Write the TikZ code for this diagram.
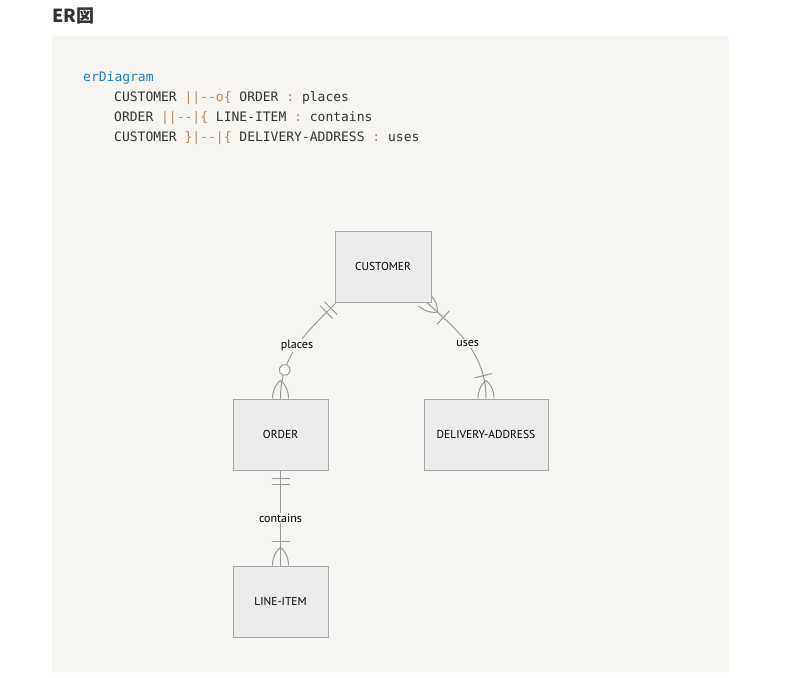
\documentclass[tikz,border=0pt]{standalone}
\usepackage{fontspec}
\setmonofont{DejaVu Sans Mono}
\newfontfamily\entfont{PT Sans}
\newfontfamily\titlefont{Noto Sans CJK JP}
\usetikzlibrary{positioning, decorations.markings, backgrounds}

\definecolor{panelbg}{HTML}{F6F5F2}
\definecolor{entfill}{HTML}{ECECEC}
\definecolor{entline}{HTML}{A8A8A8}
\definecolor{relgray}{HTML}{999999}
\definecolor{textgray}{HTML}{333333}
\definecolor{kwblue}{HTML}{1F7FB3}
\definecolor{opbrown}{HTML}{B5875C}

% crow's foot, drawn in the frame of a marking
\newcommand{\crowfoot}[1]{\draw[rel, xscale=#1] (0pt,8pt) .. controls (10pt,8pt) and (16pt,3pt) .. (18pt,0pt) .. controls (16pt,-3pt) and (10pt,-8pt) .. (0pt,-8pt);}

\begin{document}
\begin{tikzpicture}[
    x=1pt, y=-1pt,
    entity/.style={
        rectangle,
        draw=entline,
        fill=entfill,
        line width=1pt,
        minimum height=71pt,
        inner sep=0pt,
        text=black,
        font=\entfont\fontsize{11.5}{13}\selectfont
    },
    rel/.style={draw=relgray, line width=1pt},
    lbl/.style={fill=panelbg, inner sep=1pt, text=black, font=\entfont\fontsize{12}{14}\selectfont},
    code/.style={anchor=base west, inner sep=0pt, text=textgray, font=\ttfamily\fontsize{13}{16}\selectfont},
    onebar/.style={postaction={decorate, decoration={markings,
        mark=at position #1 with {\draw[rel] (0pt,-9pt) -- (0pt,9pt);}}}},
    zeroring/.style={postaction={decorate, decoration={markings,
        mark=at position #1 with {\draw[rel, fill=white] (0pt,0pt) circle (5.5pt);}}}},
    crowstart/.style={postaction={decorate, decoration={markings,
        mark=at position 0.01pt with {\crowfoot{1}}}}},
    crowend/.style={postaction={decorate, decoration={markings,
        mark=at position -0.01pt with {\crowfoot{-1}}}}}
]
    \useasboundingbox (0,0) rectangle (800,677);

    \node (title) [anchor=base west, inner sep=0pt, text=textgray,
        font=\titlefont\bfseries\fontsize{18}{20}\selectfont] at (52,23) {ER図};

    \begin{pgfonlayer}{background}
        \fill[panelbg, rounded corners=3pt] (52,36) rectangle (729,672);
    \end{pgfonlayer}

    % mermaid source
    \node (kw) [code, text=kwblue] at (83,81.5) {erDiagram};
    \node (src1) [code] at (114,101.5) {CUSTOMER \textcolor{opbrown}{||-{}-o\{} ORDER \textcolor{opbrown}{:} places};
    \node (src2) [code] at (114,121.5) {ORDER \textcolor{opbrown}{||-{}-|\{} LINE-ITEM \textcolor{opbrown}{:} contains};
    \node (src3) [code] at (114,141.5) {CUSTOMER \textcolor{opbrown}{\}|-{}-|\{} DELIVERY-ADDRESS \textcolor{opbrown}{:} uses};

    % entities
    \node (customer) [entity, minimum width=96pt] at (383,266.5) {CUSTOMER};
    \node (order) [entity, minimum width=95pt] at (280.5,434.5) {ORDER};
    \node (delivery) [entity, minimum width=124pt] at (486,434.5) {DELIVERY-ADDRESS};
    \node (lineitem) [entity, minimum width=95pt, below=95pt of order] {LINE-ITEM};

    % relationships
    \begin{pgfonlayer}{background}
        \draw[rel, onebar=8pt, onebar=14pt, zeroring=-29pt, crowend]
            ([xshift=2pt]customer.south west) to[out=225, in=90] node[lbl] {places} (order.north);
        \draw[rel, crowstart, onebar=26pt, onebar=-23pt, crowend]
            ([xshift=-7.5pt, yshift=2.5pt]customer.south east) to[out=-42, in=90] node[lbl] {uses} (delivery.north);
        \draw[rel, onebar=8pt, onebar=14pt, onebar=-24pt, crowend]
            (order) -- node[lbl] {contains} (lineitem);
    \end{pgfonlayer}

\end{tikzpicture}
\end{document}
